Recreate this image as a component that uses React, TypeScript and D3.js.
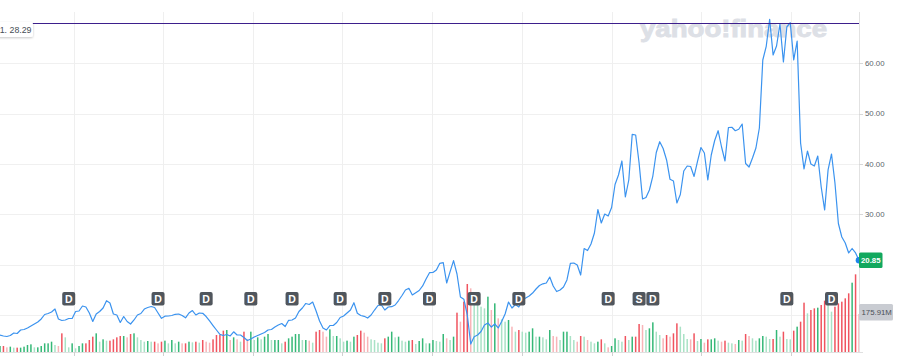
import React from 'react';
import * as d3 from 'd3';

// ---- data (weekly) ----
const startDate = new Date(2017, 7, 3);

const prices: number[] = [
  5.98, 5.79, 5.69, 5.88, 6.38, 6.28, 6.98, 7.08, 7.38, 7.77,
  8.17, 8.57, 9.17, 10.06, 10.26, 10.56, 11.15, 9.17, 8.87, 8.97,
  9.26, 9.26, 10.66, 10.76, 11.75, 11.55, 10.36, 8.67, 10.16, 10.66,
  11.35, 12.8, 12.35, 10.16, 9.96, 8.47, 9.66, 8.67, 8.17, 8.97,
  9.96, 10.26, 11.15, 11.45, 11.65, 11.45, 10.36, 9.3, 9.72, 9.76,
  9.86, 10.1, 10.16, 9.86, 9.4, 10.36, 10.85, 9.96, 10.36, 10.3,
  9.66, 8.77, 7.87, 6.98, 6.12, 5.88, 6.08, 5.79, 6.62, 5.98,
  5.98, 5.49, 4.89, 5.19, 5.59, 5.88, 6.18, 6.48, 6.98, 7.08,
  7.57, 7.97, 8.27, 7.67, 8.91, 8.97, 9.36, 10.66, 11.35, 12.25,
  12.05, 12.54, 10.76, 8.77, 7.38, 6.98, 7.87, 7.87, 8.47, 9.46,
  9.76, 10.36, 10.95, 12.41, 10.3, 9.86, 9.7, 9.36, 9.96, 10.95,
  11.85, 11.95, 10.95, 11.55, 11.61, 11.95, 12.84, 13.84, 14.93, 15.27,
  13.94, 14.39, 14.83, 15.73, 17.12, 18.37, 18.41, 18.91, 20.24, 20.36,
  16.32, 18.57, 20.76, 18.11, 13.54, 13.1, 9.96, 4.19, 5.65, 5.98,
  6.68, 7.97, 8.37, 7.57, 8.17, 7.38, 8.67, 10.16, 12.54, 11.35,
  12.05, 11.55, 12.94, 13.34, 13.74, 14.33, 15.13, 15.83, 16.16, 16.32,
  17.51, 15.73, 14.63, 14.93, 15.53, 16.92, 20.24, 20.3, 19.9, 17.91,
  23.18, 22.78, 24.08, 26.26, 30.93, 28.25, 30.04, 29.64, 31.33, 35.9,
  37.79, 40.58, 33.42, 36.8, 45.88, 45.75, 40.18, 33.02, 33.32, 34.81,
  37.59, 42.27, 44.41, 43.06, 40.78, 36.94, 36.6, 32.23, 33.92, 38.59,
  39.58, 39.48, 37.5, 40.48, 43.26, 42.17, 36.8, 41.77, 44.65, 46.6,
  43.36, 40.58, 47.24, 47.28, 46.6, 46.88, 47.93, 40.08, 39.38, 41.17,
  43.16, 47.14, 60.66, 63.38, 68.75, 61.65, 63.44, 67.81, 60.26, 67.22,
  68.07, 60.66, 64.43, 44.16, 38.99, 42.56, 39.98, 39.58, 41.57, 35.41,
  30.84, 38.79, 41.97, 36.2, 28.15, 25.47, 24.27, 22.29, 23.18, 22.29,
  20.85,
];

// volume in millions
const volumes: number[] = [
  27.8, 27.8, 21.6, 24.7, 20.1, 20.1, 20.1, 24.7, 32.4, 35.5,
  21.6, 21.6, 27.8, 40.1, 40.1, 47.8, 32.4, 27.8, 86.4, 67.9,
  21.6, 40.1, 17.0, 27.8, 40.1, 40.1, 55.5, 71.0, 86.4, 47.8,
  58.6, 52.5, 52.5, 58.6, 67.9, 74.1, 74.1, 67.9, 83.3, 86.4,
  67.9, 55.5, 47.8, 50.9, 47.8, 47.8, 40.1, 47.8, 52.5, 40.1,
  55.5, 40.1, 47.8, 40.1, 40.1, 47.8, 44.7, 47.8, 43.2, 55.5,
  47.8, 43.2, 58.6, 78.7, 78.7, 98.8, 101.8, 55.5, 67.9, 58.6,
  47.8, 94.1, 58.6, 94.1, 55.5, 67.9, 58.6, 71.0, 83.3, 55.5,
  55.5, 55.5, 40.1, 47.8, 63.3, 71.0, 83.3, 83.3,
  55.5, 55.5, 52.5, 43.2, 94.1, 101.8, 94.1, 71.0, 104.9, 74.1,
  74.1, 63.3, 47.8, 52.5, 47.8, 71.0, 78.7, 98.8, 89.5, 71.0,
  58.6, 55.5, 43.2, 40.1, 63.3, 71.0, 94.1, 67.9, 71.0, 52.5,
  47.8, 52.5, 55.5, 37.0, 50.9, 63.3, 40.1, 40.1, 55.5, 50.9,
  47.8, 83.3, 63.3, 55.5, 71.0, 182.1, 140.4, 233.0, 314.8, 294.7,
  240.7, 228.4, 209.8, 202.1, 256.1, 194.4, 225.3, 155.8, 151.2, 140.4,
  148.1, 117.3, 94.1, 101.8, 94.1, 89.5, 94.1, 109.6, 71.0, 71.0,
  67.9, 58.6, 101.8, 74.1, 71.0, 55.5, 94.1, 94.1, 74.1, 55.5,
  47.8, 74.1, 71.0, 55.5, 47.8, 40.1, 47.8,
  58.6, 40.1, 21.6, 27.8, 63.3, 55.5, 47.8, 74.1, 55.5, 71.0,
  71.0, 129.6, 125.0, 101.8, 109.6, 137.3, 94.1, 78.7, 63.3, 78.7,
  71.0, 86.4, 132.7, 117.3, 83.3, 60.2, 58.6, 86.4, 50.9, 60.2,
  43.2, 58.6, 58.6, 63.3, 52.5, 47.8, 52.5, 43.2, 40.1, 37.0,
  55.5, 52.5, 83.3, 74.1, 63.3, 52.5, 63.3, 74.1, 71.0, 60.2,
  60.2, 101.8, 71.0, 94.1, 60.2, 58.6, 98.8, 117.3, 140.4, 228.4,
  179.0, 194.4, 202.1, 205.2, 217.6, 237.6, 233.0, 186.7, 209.8, 225.3,
  233.0, 248.4, 271.6, 320.9, 359.5, 175.91,
];

const dividendWeeks = [20, 46, 60, 73, 85, 99, 112, 125, 138, 151, 177, 190, 229, 242];
const splitWeeks = [186];
const gridValues = [10, 20, 30, 40, 50, 60];
const labeledValues = [30, 40, 50, 60];
const refValue = 68.0;
const refLabel = '1. 28.29';
const lastVolumeLabel = '175.91M';

const FONT = '"Liberation Sans", Arial, sans-serif';

export default function App() {
  const W = 916;
  const H = 359;
  const plotRight = 859;
  const plotTop = 12;
  const plotBottom = 352;

  const dates = prices.map((_, i) => d3.timeDay.offset(startDate, 7 * i));
  const x = d3.scaleTime().domain([dates[0], dates[dates.length - 1]]).range([0, plotRight]);
  const y = d3.scaleLinear().domain([0, 60]).range([365.1, 63.3]);
  const vy = d3.scaleLinear().domain([0, 175.91]).range([plotBottom, 314]);
  const crisp = (v: number) => Math.round(v) + 0.5;

  const line = d3.line<number>().x((_, i) => x(dates[i])).y((d) => y(d));
  const timeTicks = x.ticks(d3.timeMonth.every(6) as any).filter((t) => {
    const px = x(t);
    return px > 2 && px < plotRight - 2;
  });

  const n = Math.min(prices.length, volumes.length);
  const volColors = volumes.slice(0, n).map((v, i) => {
    const up = i === 0 ? true : prices[i] >= prices[i - 1];
    const light = i > 0 && v < volumes[i - 1];
    if (up) return light ? '#a9e2c6' : '#35b877';
    return light ? '#f8b4b8' : '#f0545f';
  });

  const last = prices[prices.length - 1];
  const lastX = x(dates[dates.length - 1]);
  const lastY = y(last);
  const lastVol = volumes[n - 1];

  return (
    <svg width={W} height={H} style={{ position: 'absolute', left: 0, top: 0, display: 'block', background: '#fff' }}
      fontFamily={FONT}>
      <defs>
        <filter id="sh" x="-20%" y="-40%" width="150%" height="190%">
          <feDropShadow dx="0" dy="1" stdDeviation="1.2" floodColor="#000" floodOpacity="0.22" />
        </filter>
      </defs>

      {/* horizontal grid */}
      {gridValues.map((v) => (
        <line key={'h' + v} x1={0} x2={plotRight} y1={crisp(y(v))} y2={crisp(y(v))} stroke="#f0f0f0" strokeWidth={1} />
      ))}
      {/* vertical grid */}
      {timeTicks.map((t, i) => (
        <line key={'v' + i} x1={crisp(x(t))} x2={crisp(x(t))} y1={plotTop} y2={plotBottom} stroke="#efefef" strokeWidth={1} />
      ))}

      {/* watermark */}
      <text x={640} y={36.7} fontSize={24} fontWeight={700} fill="#dde0e6" stroke="#dde0e6" strokeWidth={0.9}
        textLength={187} lengthAdjust="spacingAndGlyphs">yahoo!finance</text>

      {/* volume bars */}
      {volumes.slice(0, n).map((v, i) => {
        const cx = x(dates[i]);
        return (
          <rect key={'b' + i} x={cx - 0.75} y={vy(v)} width={1.5} height={plotBottom - vy(v)} fill={volColors[i]} />
        );
      })}

      {/* price line */}
      <path d={line(prices) || ''} fill="none" stroke="#3b93ef" strokeWidth={1.2} strokeLinejoin="round" />

      {/* reference line */}
      <line x1={0} x2={plotRight} y1={crisp(y(refValue))} y2={crisp(y(refValue))} stroke="#3d1f8c" strokeWidth={1} />
      <g filter="url(#sh)">
        <rect x={-3} y={22} width={36} height={15} rx={2} fill="#fff" />
      </g>
      <text x={31.5} y={33} fontSize={8.8} fill="#464e56" textAnchor="end">{refLabel}</text>

      {/* dividend / split markers */}
      {splitWeeks.map((w, i) => {
        const cx = x(dates[w]);
        return (
          <g key={'s' + i}>
            <rect x={cx - 6.5} y={292} width={13} height={13.5} rx={2} fill="#50565d" />
            <text x={cx} y={302.8} fontSize={10.5} fontWeight={700} fill="#fff" textAnchor="middle">S</text>
          </g>
        );
      })}
      {dividendWeeks.map((w, i) => {
        const cx = x(dates[w]);
        return (
          <g key={'d' + i}>
            <rect x={cx - 6.5} y={292} width={13} height={13.5} rx={2} fill="#50565d" />
            <text x={cx} y={302.8} fontSize={10.5} fontWeight={700} fill="#fff" textAnchor="middle">D</text>
          </g>
        );
      })}

      {/* right axis */}
      <line x1={plotRight + 0.5} x2={plotRight + 0.5} y1={plotTop} y2={plotBottom} stroke="#e2e2e2" />
      {labeledValues.map((v) => (
        <g key={'t' + v}>
          <line x1={plotRight} x2={plotRight + 4} y1={crisp(y(v))} y2={crisp(y(v))} stroke="#d8d8d8" />
          <text x={865} y={y(v) + 2.8} fontSize={7.8} fill="#5b636a">{v.toFixed(2)}</text>
        </g>
      ))}

      {/* bottom axis */}
      <line x1={0} x2={863} y1={plotBottom + 0.5} y2={plotBottom + 0.5} stroke="#e0e0e0" />
      {timeTicks.map((t, i) => (
        <line key={'bt' + i} x1={crisp(x(t))} x2={crisp(x(t))} y1={plotBottom} y2={plotBottom + 4} stroke="#d0d0d0" />
      ))}

      {/* last price marker */}
      <circle cx={lastX} cy={lastY} r={3.3} fill="#1d84ea" />
      <rect x={plotRight} y={lastY - 7.8} width={23.5} height={15.5} rx={1.5} fill="#12a85e" />
      <text x={plotRight + 11.75} y={lastY + 2.8} fontSize={7.8} fontWeight={700} fill="#fff" textAnchor="middle">
        {last.toFixed(2)}
      </text>

      {/* last volume label */}
      <rect x={plotRight} y={vy(lastVol) - 10} width={34} height={16.5} rx={1.5} fill="#c9ccd2" />
      <text x={plotRight + 2.5} y={vy(lastVol) + 1} fontSize={7.8} fill="#4b5058">{lastVolumeLabel}</text>
    </svg>
  );
}
